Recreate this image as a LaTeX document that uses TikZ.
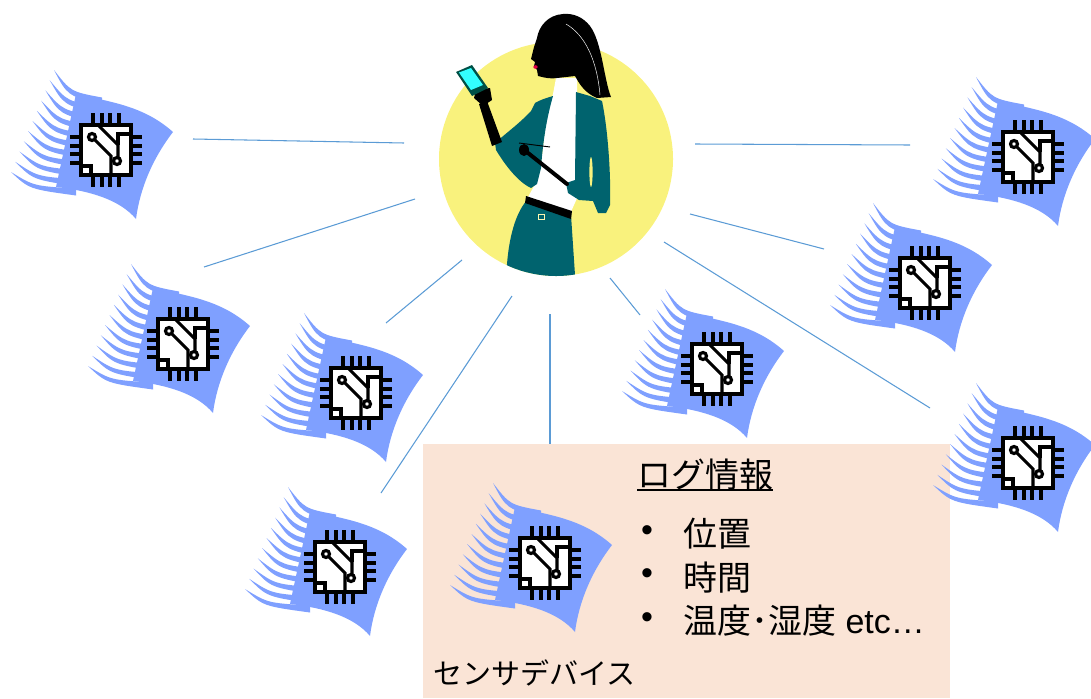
\documentclass[tikz,border=0pt]{standalone}
\usepackage{fontspec}
\setmainfont{Liberation Sans}
\newfontfamily\jp{Noto Sans CJK JP}
\definecolor{linkblue}{RGB}{91,155,213}
\definecolor{flagblue}{RGB}{127,160,255}
\definecolor{sunyellow}{RGB}{249,242,125}
\definecolor{jacket}{RGB}{0,99,110}
\definecolor{peach}{RGB}{250,228,214}
\definecolor{screen}{RGB}{51,255,255}
\definecolor{phonebody}{RGB}{0,80,70}
\definecolor{lip}{RGB}{225,0,70}

\tikzset{
  chipline/.style={line width=3.1pt},
  trace/.style={line width=2.7pt},
  link/.style={linkblue,line width=0.9pt},
  txt/.style={anchor=base west,inner sep=0pt},
  sensor/.pic={
    % waving flag behind the chip
    \fill[flagblue] (-30,-56) .. controls (5,-48) and (38,-44) .. (67,-18)
      .. controls (47,8) and (34,38) .. (30,69)
      .. controls (14,50) and (-15,41) .. (-50,37) -- cycle;
    \foreach \i in {0,...,10}{
      \pgfmathsetmacro\tx{-52-4.3*\i}
      \pgfmathsetmacro\ty{-80+10.2*\i}
      \pgfmathsetmacro\ex{48+1.7*\i}
      \pgfmathsetmacro\ey{31-1.1*\i}
      \begin{scope}[shift={(\tx,\ty)}]
        \fill[flagblue] (0,0) .. controls (0.35*\ex,0.7*\ey) .. (\ex,\ey-3.5)
          -- (\ex,\ey+3.5) .. controls (0.28*\ex,0.78*\ey+1.5) .. (0,0) -- cycle;
      \end{scope}
    }
    % chip with pins
    \draw[chipline,fill=white] (-25,-25) rectangle (25,25);
    \foreach \p in {-12.75,-4.25,4.25,12.75}{
      \draw[chipline] (\p,-25) -- (\p,-37) (\p,25) -- (\p,37)
        (-25,\p) -- (-36,\p) (25,\p) -- (36,\p);
    }
    % traces
    \draw[trace] (-14,-13) circle (3.5) (11,11) circle (3.5);
    \draw[trace] (-11.5,-10.5) -- (5,6) -- (5,25);
    \draw[trace] (-8,-25) -- (12,-5) -- (12,7.5);
    \draw[trace] (25,-16) -- (12,-16) -- (12,-5);
    \draw[trace] (-25,16) -- (-15,16) -- (-15,25);
  }
}

\begin{document}
\begin{tikzpicture}[x=0.03cm,y=-0.03cm]
\useasboundingbox (0,0) rectangle (1091,698);

% log box
\node[fill=peach,anchor=north west,inner sep=0pt,minimum width=15.81cm,minimum height=7.62cm] (box) at (423,444) {};

% links between hub and sensors
\coordinate (h1) at (404,143); \coordinate (t1) at (193,139);
\coordinate (h2) at (415,199); \coordinate (t2) at (204,267);
\coordinate (h3) at (462,260); \coordinate (t3) at (386,323);
\coordinate (h4) at (512,296); \coordinate (t4) at (381,493);
\coordinate (h5) at (550,314); \coordinate (t5) at (550,444);
\coordinate (h6) at (610,278); \coordinate (t6) at (640,315);
\coordinate (h7) at (664,242); \coordinate (t7) at (930,408);
\coordinate (h8) at (690,214); \coordinate (t8) at (824,249);
\coordinate (h9) at (695,144); \coordinate (t9) at (910,145);
\foreach \n in {1,...,9}{
  \draw[link] (h\n) -- (t\n);
}

% hub: woman with phone
\node[circle,fill=sunyellow,minimum size=7.02cm,inner sep=0pt] (hub) at (556,159) {};
\fill[white] (556,78) -- (577,78) -- (578,196) -- (570,214) -- (527,199) -- (534,186)
  -- (541,165) -- (547,112) -- (553,94) -- cycle;
\begin{scope}
  \clip (hub.center) circle [radius=3.51cm];
  \fill[jacket] (527,200) -- (571,215) -- (576,290) -- (506,290)
    .. controls (506,245) and (514,215) .. (527,200) -- cycle;
\end{scope}
\fill[black] (526,196) -- (572,211) -- (571,219) -- (525,203) -- cycle;
\draw[sunyellow!60!white,line width=0.5pt] (538,214) rectangle (544,219);
\fill[jacket] (576,92) -- (590,96) -- (602,101) .. controls (608,130) and (611,175) .. (610,205)
  -- (606,213) -- (598,213) -- (593,201) -- (579,200) -- (568,193) -- (566,183) -- (575,180) -- cycle;
\fill[sunyellow] (591,172) ellipse (1.6 and 15);
\fill[jacket] (553,96) .. controls (546,98) and (540,100) .. (535,103) -- (531,111)
  .. controls (520,123) and (505,134) .. (495,143) -- (496,150)
  .. controls (505,165) and (518,182) .. (531,188) -- (537,184) -- (541,168)
  .. controls (543,140) and (547,117) .. (553,96) -- cycle;
% arm with pen
\draw[black,line width=3.4pt,line cap=round] (528,153) -- (567,184);
\fill[black] (524,150) ellipse (5 and 6);
\draw[black,line width=0.8pt] (519,143) -- (550,147);
% arm with phone
\fill[black] (492,146) -- (479,104) -- (487,101) -- (502,142) -- cycle;
\fill[black] (476,90) -- (490,88) -- (492,100) -- (483,106) -- (474,98) -- cycle;
\fill[phonebody] (456,72) -- (472,65) -- (488,88) -- (472,96) -- cycle;
\fill[screen] (459,72.5) -- (471,68) -- (483,85) -- (471,90) -- cycle;
% head and hair
\fill[black] (563,14) .. controls (548,15) and (539,26) .. (537,38)
  -- (534,47) -- (531,59) -- (535,62) -- (534,66) -- (537,70) -- (538,76)
  .. controls (545,78) and (552,79) .. (557,78) -- (575,76)
  .. controls (580,85) and (585,93) .. (597,98) -- (611,97)
  .. controls (604,80) and (602,42) .. (590,26)
  .. controls (583,17) and (573,13) .. (563,14) -- cycle;
\fill[lip] (535.5,67) ellipse (2.2 and 1.8);
\draw[white,line width=0.4pt] (566,24) .. controls (585,35) and (597,60) .. (600,95);

% sensor devices
\pic (s1) at (106,150) {sensor};
\pic (s2) at (183,344) {sensor};
\pic (s3) at (356,393) {sensor};
\pic (s4) at (717,369) {sensor};
\pic (s5) at (925,283) {sensor};
\pic (s6) at (1028,157) {sensor};
\pic (s7) at (1028,463) {sensor};
\pic (s8) at (340,567) {sensor};
\pic (s9) at (545,563) {sensor};

% log contents
\node[txt,font=\jp\fontsize{29pt}{34pt}\selectfont] (title) at (637,487) {ログ情報};
\draw[line width=1.6pt] ([yshift=-2.6pt]title.base west) -- ([yshift=-2.6pt]title.base east);
\foreach \y/\n in {534/b1,577/b2,621/b3}{
  \node[font=\fontsize{29pt}{34pt}\selectfont,inner sep=0pt] (\n) at (647,\y) {•};
}
\node[txt,font=\jp\fontsize{29pt}{34pt}\selectfont] (pos) at (683,546) {位置};
\node[txt,font=\jp\fontsize{29pt}{34pt}\selectfont] (time) at (683,590) {時間};
\node[txt,font=\fontsize{29pt}{34pt}\selectfont] (temp) at (683,633) {{\jp 温度･湿度} etc…};
\node[txt,font=\jp\fontsize{24.8pt}{30pt}\selectfont] (dev) at (433,684) {センサデバイス};
\end{tikzpicture}
\end{document}
